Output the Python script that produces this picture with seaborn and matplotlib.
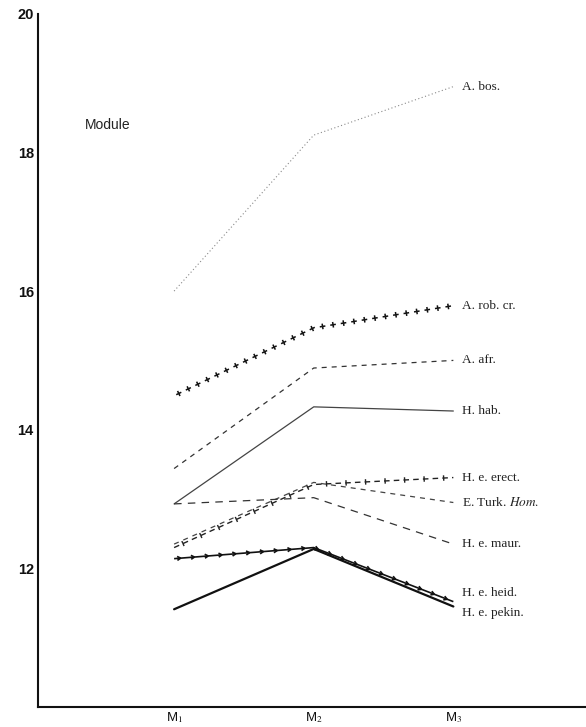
import matplotlib

matplotlib.use("Agg")
import matplotlib.pyplot as plt
import matplotlib.patheffects as pe
import pandas as pd
import seaborn as sns

teeth = ["M1", "M2", "M3"]
tick_labels = ["M$_1$", "M$_2$", "M$_3$"]

a_bos = [16.0, 18.25, 18.95]
a_rob_cr = [14.49, 15.47, 15.79]
a_afr = [13.44, 14.89, 15.0]
h_hab = [12.93, 14.33, 14.27]
h_e_erect = [12.30, 13.21, 13.31]
e_turk_hom = [12.35, 13.24, 12.95]
h_e_maur = [12.93, 13.02, 12.35]
h_e_heid = [12.14, 12.30, 11.52]
h_e_pekin = [11.41, 12.28, 11.45]

series = {
    "A. bos.": a_bos,
    "A. rob. cr.": a_rob_cr,
    "A. afr.": a_afr,
    "H. hab.": h_hab,
    "H. e. erect.": h_e_erect,
    "E. Turk. $\\mathit{Hom.}$": e_turk_hom,
    "H. e. maur.": h_e_maur,
    "H. e. heid.": h_e_heid,
    "H. e. pekin.": h_e_pekin,
}


def cross(spacing, length, **kw):
    # ticks only, the line itself is not drawn
    return [pe.TickedStroke(angle=a, spacing=spacing, length=length, **kw)
            for a in (0, 90, 180, -90)]


def ticks(angles, spacing, length, lw):
    return [pe.Normal()] + [pe.TickedStroke(angle=a, spacing=spacing, length=length,
                                            linewidth=lw) for a in angles]


styles = {
    "A. bos.": dict(color="#8a8a8a", lw=0.8, linestyle=(0, (1, 2.2))),
    "A. rob. cr.": dict(color="#111111", lw=1.2, solid_capstyle="butt",
                        path_effects=cross(7.5, 0.27, linewidth=1.1)),
    "A. afr.": dict(color="#333333", lw=0.9, linestyle=(0, (4, 4))),
    "H. hab.": dict(color="#444444", lw=0.9, linestyle="-"),
    "H. e. erect.": dict(color="#222222", lw=1.0, linestyle=(0, (4, 3)),
                         path_effects=ticks((90, -90), 14, 0.14, 1.0)),
    "E. Turk. $\\mathit{Hom.}$": dict(color="#444444", lw=0.9, linestyle=(0, (4, 4))),
    "H. e. maur.": dict(color="#333333", lw=0.9, linestyle=(0, (6, 5))),
    "H. e. heid.": dict(color="#111111", lw=1.2, linestyle="-", solid_capstyle="butt",
                        path_effects=ticks((150, -150), 9.5, 0.3, 1.2)),
    "H. e. pekin.": dict(color="#111111", lw=1.6, linestyle="-"),
}

label_dy = {"H. e. heid.": 0.13, "H. e. pekin.": -0.09}

sns.set_theme(style="white")
plt.rcParams["font.family"] = ["Liberation Serif", "DejaVu Sans"]
plt.rcParams["mathtext.fontset"] = "stix"

fig = plt.figure(figsize=(5.86, 7.27), dpi=100)
ax = fig.add_axes([0.0648, 0.0275, 0.9352, 0.9535])

xpos = {t: i + 1 for i, t in enumerate(teeth)}
for name, vals in series.items():
    df = pd.DataFrame({"x": [xpos[t] for t in teeth], "y": vals})
    sns.lineplot(data=df, x="x", y="y", ax=ax, **styles[name])
    ax.text(3.06, vals[-1] + label_dy.get(name, 0.0), name, fontsize=9.5,
            ha="left", va="center", color="#222222")

ax.text(0.36, 18.4, "Module", fontsize=10, fontfamily="Liberation Sans",
        ha="left", va="center", color="#222222")

ax.set_xlim(0.025, 3.95)
ax.set_ylim(10, 20)
ax.set_yticks([12, 14, 16, 18, 20])
ax.set_yticklabels(["12", "14", "16", "18", "20"], fontfamily="Liberation Sans",
                   fontweight="bold", fontsize=10.5)
ax.set_xticks([1, 2, 3])
ax.set_xticklabels(tick_labels, fontfamily="Liberation Sans", fontsize=9.5)
ax.set_xlabel("")
ax.set_ylabel("")
ax.tick_params(axis="both", direction="in", length=6, width=1, color="#111111",
               pad=3, labelcolor="#111111")
ax.tick_params(axis="x", pad=2)
for side in ("top", "right"):
    ax.spines[side].set_visible(False)
for side in ("left", "bottom"):
    ax.spines[side].set_color("#111111")
    ax.spines[side].set_linewidth(1.5)

fig.savefig("out.png", dpi=100)
